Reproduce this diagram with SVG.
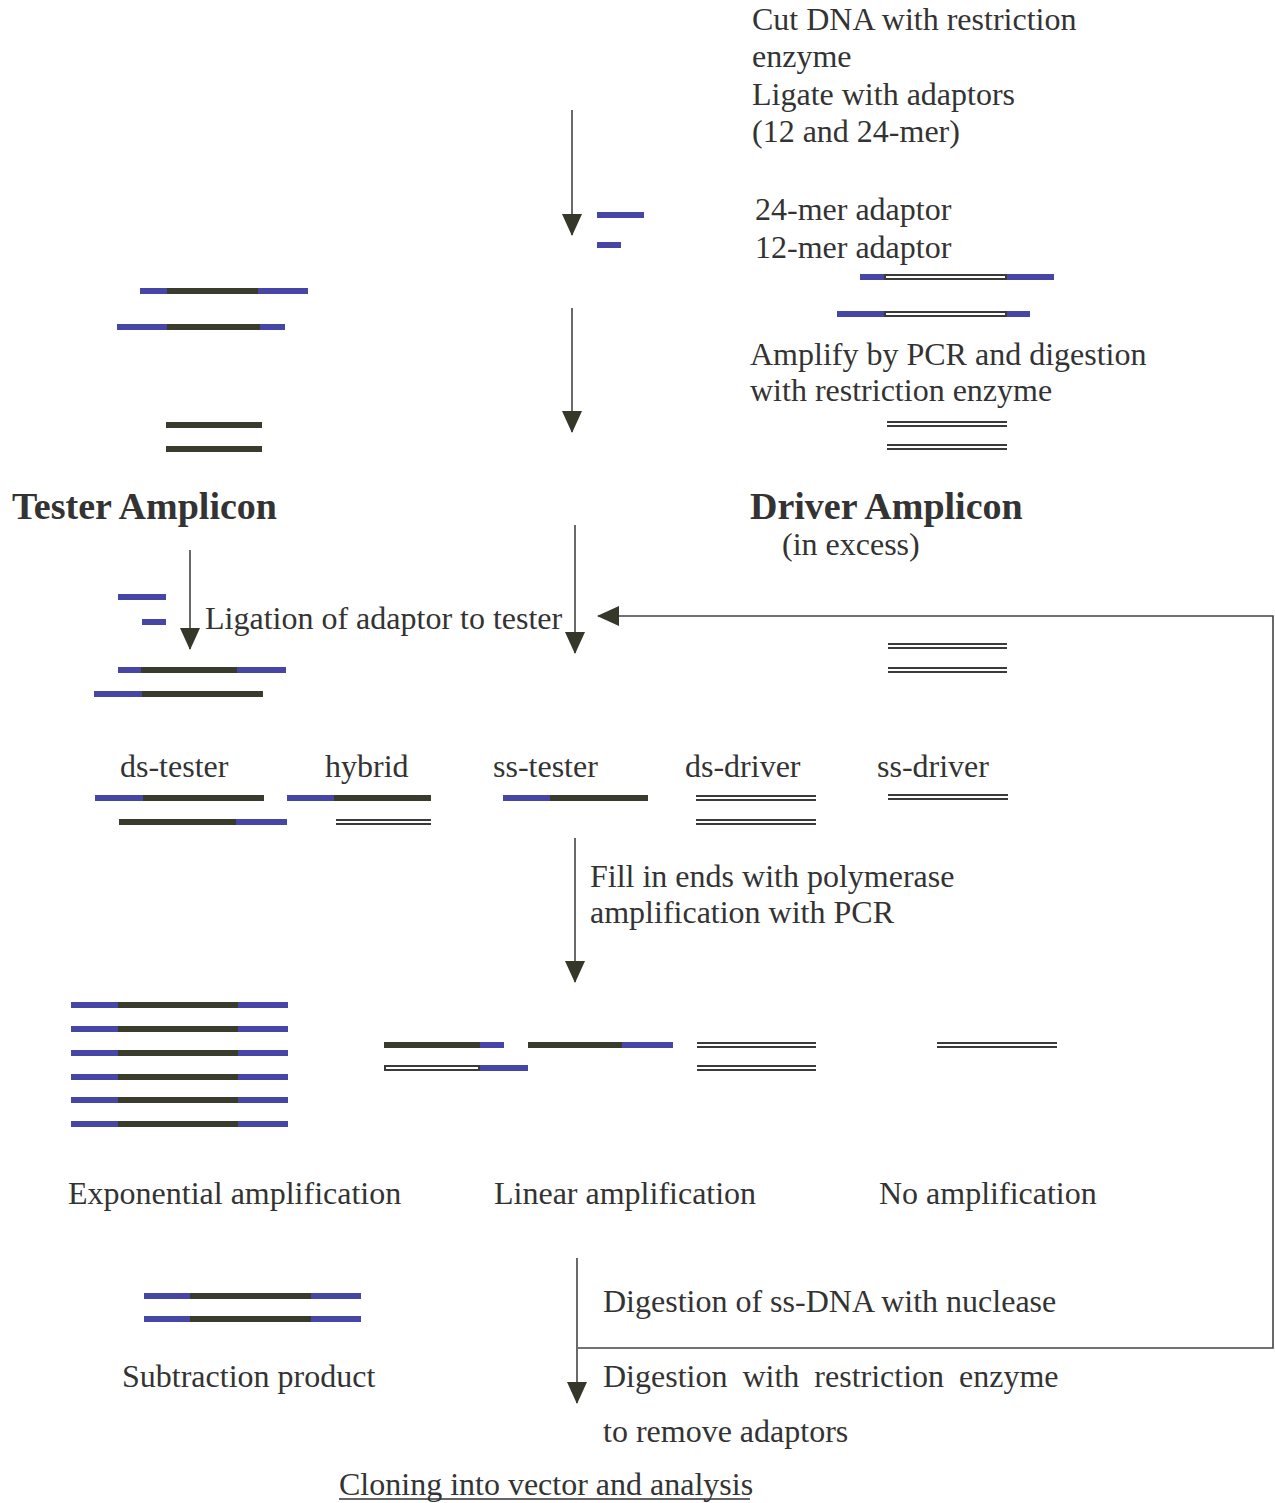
<svg xmlns="http://www.w3.org/2000/svg" width="1275" height="1503" viewBox="0 0 1275 1503">
<style>
text{font-family:"Liberation Serif","Times New Roman",serif;font-size:32px;fill:#333}
.b{font-weight:bold;font-size:38px}
.bl{stroke:#4646a6;stroke-width:6;fill:none}
.dk{stroke:#393b2c;stroke-width:6;fill:none}
.dbo{stroke:#3a3a3a;stroke-width:6;fill:none}
.dbi{stroke:#fff;stroke-width:2;fill:none}
.ar{stroke:#444;stroke-width:1.6;fill:none}
</style>
<defs>
<marker id="ah" viewBox="0 0 22 20" refX="21" refY="10" markerWidth="22" markerHeight="20" markerUnits="userSpaceOnUse" orient="auto">
<path d="M0,0 L22,10 L0,20 z" fill="#353829"/>
</marker>
</defs>
<rect width="1275" height="1503" fill="#fff"/>

<g id="connectors">
<line class="ar" x1="572" y1="110" x2="572" y2="235" marker-end="url(#ah)"/>
<line class="ar" x1="572" y1="308" x2="572" y2="432" marker-end="url(#ah)"/>
<line class="ar" x1="575" y1="525" x2="575" y2="653" marker-end="url(#ah)"/>
<line class="ar" x1="190" y1="550" x2="190" y2="649" marker-end="url(#ah)"/>
<line class="ar" x1="575" y1="838" x2="575" y2="982" marker-end="url(#ah)"/>
<line class="ar" x1="577" y1="1258" x2="577" y2="1403" marker-end="url(#ah)"/>
<polyline class="ar" points="578,1348 1273,1348 1273,616 598,616" marker-end="url(#ah)"/>
</g>

<g id="step1-text">
<text x="752" y="30">Cut DNA with restriction</text>
<text x="752" y="67">enzyme</text>
<text x="752" y="105">Ligate with adaptors</text>
<text x="752" y="142">(12 and 24-mer)</text>
</g>

<g id="adaptors">
<line class="bl" x1="597" y1="215" x2="644" y2="215"/>
<line class="bl" x1="597" y1="245" x2="621" y2="245"/>
<text x="755" y="220">24-mer adaptor</text>
<text x="755" y="258">12-mer adaptor</text>
</g>

<g id="tester-ligated">
<line class="bl" x1="140" y1="291" x2="308" y2="291"/>
<line class="dk" x1="167" y1="291" x2="258" y2="291"/>
<line class="bl" x1="117" y1="327" x2="285" y2="327"/>
<line class="dk" x1="167" y1="327" x2="260" y2="327"/>
</g>

<g id="driver-ligated">
<line class="bl" x1="860" y1="277" x2="1054" y2="277"/>
<line class="dbo" x1="884" y1="277" x2="1007" y2="277"/>
<line class="dbi" x1="886" y1="277" x2="1005" y2="277"/>
<line class="bl" x1="837" y1="314" x2="1030" y2="314"/>
<line class="dbo" x1="884" y1="314" x2="1007" y2="314"/>
<line class="dbi" x1="886" y1="314" x2="1005" y2="314"/>
</g>

<g id="step2-text">
<text x="750" y="365">Amplify by PCR and digestion</text>
<text x="750" y="401">with restriction enzyme</text>
</g>

<g id="tester-amplicon-dna">
<line class="dk" x1="166" y1="425" x2="262" y2="425"/>
<line class="dk" x1="166" y1="449" x2="262" y2="449"/>
</g>

<g id="driver-amplicon-dna">
<line class="dbo" x1="887" y1="424" x2="1007" y2="424"/>
<line class="dbi" x1="887" y1="424" x2="1007" y2="424"/>
<line class="dbo" x1="887" y1="447" x2="1007" y2="447"/>
<line class="dbi" x1="887" y1="447" x2="1007" y2="447"/>
</g>

<g id="tester-amplicon">
<text class="b" x="12" y="519">Tester Amplicon</text>
</g>
<g id="driver-amplicon">
<text class="b" x="750" y="519">Driver Amplicon</text>
<text x="782" y="555">(in excess)</text>
</g>

<g id="ligation">
<line class="bl" x1="118" y1="597" x2="166" y2="597"/>
<line class="bl" x1="142" y1="622" x2="166" y2="622"/>
<text x="205" y="629">Ligation of adaptor to tester</text>
<line class="bl" x1="118" y1="670" x2="286" y2="670"/>
<line class="dk" x1="141" y1="670" x2="237" y2="670"/>
<line class="bl" x1="94" y1="694" x2="263" y2="694"/>
<line class="dk" x1="142" y1="694" x2="263" y2="694"/>
</g>

<g id="driver-excess">
<line class="dbo" x1="888" y1="646" x2="1007" y2="646"/>
<line class="dbi" x1="888" y1="646" x2="1007" y2="646"/>
<line class="dbo" x1="888" y1="670" x2="1007" y2="670"/>
<line class="dbi" x1="888" y1="670" x2="1007" y2="670"/>
</g>

<g id="ds-tester">
<text x="120" y="777">ds-tester</text>
<line class="bl" x1="95" y1="798" x2="264" y2="798"/>
<line class="dk" x1="143" y1="798" x2="264" y2="798"/>
<line class="bl" x1="119" y1="822" x2="287" y2="822"/>
<line class="dk" x1="119" y1="822" x2="236" y2="822"/>
</g>

<g id="hybrid">
<text x="325" y="777">hybrid</text>
<line class="bl" x1="287" y1="798" x2="431" y2="798"/>
<line class="dk" x1="334" y1="798" x2="431" y2="798"/>
<line class="dbo" x1="336" y1="822" x2="431" y2="822"/>
<line class="dbi" x1="336" y1="822" x2="431" y2="822"/>
</g>

<g id="ss-tester">
<text x="493" y="777">ss-tester</text>
<line class="bl" x1="503" y1="798" x2="648" y2="798"/>
<line class="dk" x1="550" y1="798" x2="648" y2="798"/>
</g>

<g id="ds-driver">
<text x="685" y="777">ds-driver</text>
<line class="dbo" x1="696" y1="798" x2="816" y2="798"/>
<line class="dbi" x1="696" y1="798" x2="816" y2="798"/>
<line class="dbo" x1="696" y1="822" x2="816" y2="822"/>
<line class="dbi" x1="696" y1="822" x2="816" y2="822"/>
</g>

<g id="ss-driver">
<text x="877" y="777">ss-driver</text>
<line class="dbo" x1="888" y1="797" x2="1008" y2="797"/>
<line class="dbi" x1="888" y1="797" x2="1008" y2="797"/>
</g>

<g id="step3-text">
<text x="590" y="887">Fill in ends with polymerase</text>
<text x="590" y="923">amplification with PCR</text>
</g>

<g id="exponential">
<g id="exp-lines">
<line class="bl" x1="71" y1="1005" x2="288" y2="1005"/><line class="dk" x1="118" y1="1005" x2="238" y2="1005"/>
<line class="bl" x1="71" y1="1029" x2="288" y2="1029"/><line class="dk" x1="118" y1="1029" x2="238" y2="1029"/>
<line class="bl" x1="71" y1="1053" x2="288" y2="1053"/><line class="dk" x1="118" y1="1053" x2="238" y2="1053"/>
<line class="bl" x1="71" y1="1077" x2="288" y2="1077"/><line class="dk" x1="118" y1="1077" x2="238" y2="1077"/>
<line class="bl" x1="71" y1="1100" x2="288" y2="1100"/><line class="dk" x1="118" y1="1100" x2="238" y2="1100"/>
<line class="bl" x1="71" y1="1124" x2="288" y2="1124"/><line class="dk" x1="118" y1="1124" x2="238" y2="1124"/>
</g>
<text x="68" y="1204">Exponential amplification</text>
</g>

<g id="linear">
<line class="bl" x1="384" y1="1045" x2="504" y2="1045"/>
<line class="dk" x1="384" y1="1045" x2="480" y2="1045"/>
<line class="bl" x1="384" y1="1068" x2="528" y2="1068"/>
<line class="dbo" x1="384" y1="1068" x2="480" y2="1068"/>
<line class="dbi" x1="386" y1="1068" x2="478" y2="1068"/>
<line class="bl" x1="528" y1="1045" x2="673" y2="1045"/>
<line class="dk" x1="528" y1="1045" x2="622" y2="1045"/>
<line class="dbo" x1="697" y1="1045" x2="816" y2="1045"/>
<line class="dbi" x1="697" y1="1045" x2="816" y2="1045"/>
<line class="dbo" x1="697" y1="1068" x2="816" y2="1068"/>
<line class="dbi" x1="697" y1="1068" x2="816" y2="1068"/>
<text x="494" y="1204">Linear amplification</text>
</g>

<g id="no-amp">
<line class="dbo" x1="937" y1="1045" x2="1057" y2="1045"/>
<line class="dbi" x1="937" y1="1045" x2="1057" y2="1045"/>
<text x="879" y="1204">No amplification</text>
</g>

<g id="subtraction">
<line class="bl" x1="144" y1="1296" x2="361" y2="1296"/>
<line class="dk" x1="190" y1="1296" x2="311" y2="1296"/>
<line class="bl" x1="144" y1="1319" x2="361" y2="1319"/>
<line class="dk" x1="190" y1="1319" x2="311" y2="1319"/>
<text x="122" y="1387">Subtraction product</text>
</g>

<g id="step4-text">
<text x="603" y="1312">Digestion of ss-DNA with nuclease</text>
<text x="603" y="1387" word-spacing="7">Digestion with restriction enzyme</text>
<text x="603" y="1442">to remove adaptors</text>
</g>

<g id="cloning">
<text x="339" y="1495">Cloning into vector and analysis</text>
<line x1="339" y1="1499" x2="750" y2="1499" stroke="#333" stroke-width="1.6"/>
</g>
</svg>
